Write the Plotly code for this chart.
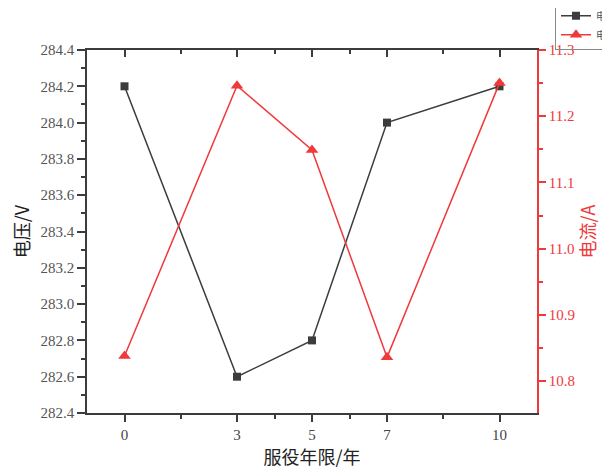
import plotly.graph_objects as go

years = [0, 3, 5, 7, 10]
voltage = [284.2, 282.6, 282.8, 284.0, 284.2]
current = [10.838, 11.246, 11.149, 10.836, 11.25]
x_ticks = [0, 3, 5, 7, 10]
x_minor = [1.5, 4, 6, 8.5]

DARK = "#3c3c3c"
RED = "#f0393b"
NUMFONT = "Liberation Serif"
CJK = "Noto Sans CJK SC"

fig = go.Figure()
fig.add_trace(go.Scatter(
    x=years, y=voltage, name="电压", mode="lines+markers",
    line=dict(color=DARK, width=1.5),
    marker=dict(symbol="square", size=8, color=DARK),
    xaxis="x", yaxis="y"))
fig.add_trace(go.Scatter(
    x=years, y=current, name="电流", mode="lines+markers",
    line=dict(color=RED, width=1.5),
    marker=dict(symbol="triangle-up", size=11, color=RED),
    xaxis="x", yaxis="y2"))
# invisible helper trace so the top frame axis is drawn
fig.add_trace(go.Scatter(
    x=years, y=voltage, mode="lines", line=dict(width=0),
    opacity=0, showlegend=False, hoverinfo="skip",
    xaxis="x2", yaxis="y"))

fig.update_layout(
    width=610, height=467,
    margin=dict(l=79, r=81, t=42, b=62, autoexpand=False),
    paper_bgcolor="white", plot_bgcolor="white",
    showlegend=True,
    legend=dict(x=1.04, y=1.137, xanchor="left", yanchor="top",
                bgcolor="rgba(255,255,255,0)", bordercolor="#888", borderwidth=1,
                font=dict(family=CJK, size=10, color="#555"),
                tracegroupgap=0, itemwidth=30),
    xaxis=dict(
        range=[-1, 11], tickmode="array", tickvals=x_ticks,
        ticktext=[str(v) for v in x_ticks],
        ticks="outside", ticklen=7, tickwidth=1.5, tickcolor=DARK,
        minor=dict(tickmode="array", tickvals=x_minor, ticks="outside",
                   ticklen=4, tickwidth=1.5, tickcolor=DARK),
        showline=True, linecolor=DARK, linewidth=1.5,
        showgrid=False, zeroline=False, automargin=False,
        tickfont=dict(family=NUMFONT, size=15, color="#444"),
        title=dict(text="服役年限/年", font=dict(family=CJK, size=18, color="#222"), standoff=0),
    ),
    xaxis2=dict(
        overlaying="x", side="top", range=[-1, 11], tickmode="array",
        tickvals=x_ticks, ticks="inside", ticklen=7, tickwidth=1.5, tickcolor=DARK,
        minor=dict(tickmode="array", tickvals=x_minor, ticks="inside",
                   ticklen=4, tickwidth=1.5, tickcolor=DARK),
        showticklabels=False, showline=True, linecolor=DARK, linewidth=1.5,
        showgrid=False, zeroline=False, automargin=False,
    ),
    yaxis=dict(
        range=[282.4, 284.4], tick0=282.4, dtick=0.2, tickformat=".1f",
        ticks="outside", ticklen=8, tickwidth=1.5, tickcolor=DARK,
        minor=dict(dtick=0.1, ticks="outside", ticklen=4, tickwidth=1.5, tickcolor=DARK),
        showline=True, linecolor=DARK, linewidth=1.5,
        showgrid=False, zeroline=False, automargin=False,
        tickfont=dict(family=NUMFONT, size=15, color="#555"),
        title=dict(text="电压/V", font=dict(family=CJK, size=18, color="#222"), standoff=10),
    ),
    yaxis2=dict(
        overlaying="y", side="right", anchor="x",
        range=[10.752, 11.3], tick0=10.8, dtick=0.1, tickformat=".1f",
        ticks="outside", ticklen=7, tickwidth=1.5, tickcolor=RED,
        minor=dict(dtick=0.05, tick0=10.8, ticks="outside", ticklen=4, tickwidth=1.5, tickcolor=RED),
        showline=True, linecolor=RED, linewidth=1.5,
        showgrid=False, zeroline=False, automargin=False,
        tickfont=dict(family=NUMFONT, size=15, color=RED),
        title=dict(text="电流/A", font=dict(family=CJK, size=18, color=RED), standoff=4),
    ),
)

fig.write_html("out.html")
